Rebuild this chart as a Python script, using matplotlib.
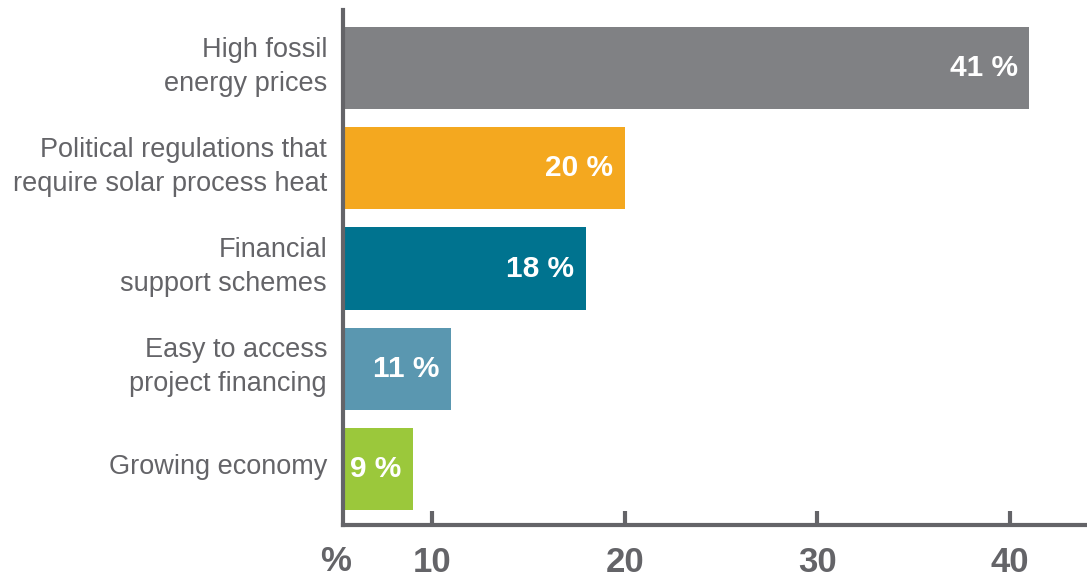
import matplotlib.pyplot as plt

# share of respondents naming each driver for solar process heat
drivers = ["High fossil\nenergy prices",
           "Political regulations that\nrequire solar process heat",
           "Financial\nsupport schemes",
           "Easy to access\nproject financing",
           "Growing economy"]
shares = [41, 20, 18, 11, 9]
colors = ["#808184", "#F4A81F", "#00738F", "#5A97B0", "#9BC83B"]
xticks = [10, 20, 30, 40]

plt.rcParams['font.family'] = ['Liberation Sans', 'DejaVu Sans']
grey = "#646468"

fig = plt.figure(figsize=(10.87, 5.78), dpi=100)
ax = fig.add_axes([0.3156, 0.0917, 0.6824, 0.891])

pos = list(range(len(drivers)))
ax.barh(pos, shares, height=0.82, color=colors, zorder=1)
for p, s in zip(pos, shares):
    ax.annotate(f"{s} %", xy=(s, p), xytext=(-8.5, 0), textcoords="offset points",
                ha="right", va="center", color="white", fontsize=21.5, fontweight="bold")

# category names sit left of the axis, a touch above bar centre
for p, name in zip(pos, drivers):
    ax.annotate(name, xy=(0, p), xycoords=("axes fraction", "data"),
                xytext=(-11.5, 1), textcoords="offset points",
                ha="right", va="center", fontsize=19.5, color=grey, linespacing=1.4)

ax.set_xlim(5.38, 43.88)
ax.set_ylim(4.56, -0.58)
ax.set_yticks([])
ax.set_xticks(xticks)
ax.set_xticklabels([str(t) for t in xticks], fontsize=25, fontweight="bold", color=grey)
ax.tick_params(axis="x", direction="in", length=10, width=3, color=grey, pad=15)
ax.text(5.0, -0.07, "%", transform=ax.get_xaxis_transform(), ha="center", va="center",
        fontsize=25, fontweight="bold", color=grey)

for side in ["top", "right"]:
    ax.spines[side].set_visible(False)
for side in ["left", "bottom"]:
    ax.spines[side].set_color(grey)
    ax.spines[side].set_linewidth(3)
    ax.spines[side].set_zorder(3)

fig.savefig("out.png", dpi=100)
